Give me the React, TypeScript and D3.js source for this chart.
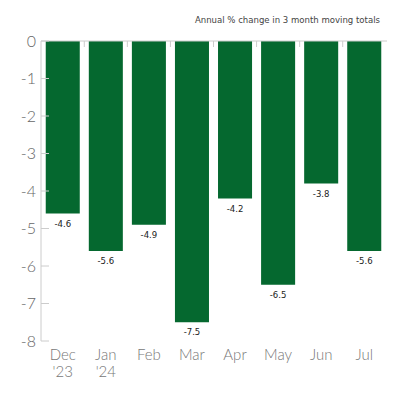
import React from "react";
import * as d3 from "d3";

const categories = ["Dec|'23", "Jan|'24", "Feb", "Mar", "Apr", "May", "Jun", "Jul"];
const values = [-4.6, -5.6, -4.9, -7.5, -4.2, -6.5, -3.8, -5.6];
const yTicks = [0, -1, -2, -3, -4, -5, -6, -7, -8];
const title = "Annual % change in 3 month moving totals";

export default function App() {
  const W = 400, H = 400;
  const left = 41, right = 386, top = 41, bottom = 341;
  const x = d3.scaleBand<string>().domain(categories).range([left, right]).paddingInner(0.21).paddingOuter(0.11);
  const y = d3.scaleLinear().domain([0, -8]).range([top, bottom]);
  const green = "#05682f";
  const step = x.step();
  const boundaries = categories.slice(1).map((c) => (x(c) as number) - (step - x.bandwidth()) / 2);
  return (
    <svg width={W} height={H} style={{ position: "absolute", left: 0, top: 0, background: "#fff" }}>
      <text x={380} y={23} textAnchor="end" fontFamily="'DejaVu Sans Condensed', 'DejaVu Sans'" fontSize={9.5} fill="#444" style={{ fontStretch: "condensed" }}>
        {title}
      </text>
      {categories.map((c, i) => (
        <rect key={c} x={x(c)} y={y(0)} width={x.bandwidth()} height={y(values[i]) - y(0)} fill={green} />
      ))}
      <line x1={left} x2={387} y1={top} y2={top} stroke="#ccc" strokeWidth={1} />
      {boundaries.map((b, i) => (
        <line key={i} x1={b} x2={b} y1={top} y2={top + 6} stroke="#ccc" strokeWidth={1} />
      ))}
      <line x1={left} x2={left} y1={top} y2={bottom} stroke="#ccc" strokeWidth={1} />
      {yTicks.map((t) => (
        <g key={t}>
          <line x1={left} x2={left + 8} y1={y(t)} y2={y(t)} stroke="#ccc" strokeWidth={1} />
          <text x={36} y={y(t) + 5.5} textAnchor="end" fontFamily="Lato, 'Open Sans', sans-serif" fontWeight={300} fontSize={16} fill="#666">
            {t}
          </text>
        </g>
      ))}
      {categories.map((c, i) => (
        <text key={c} x={(x(c) as number) + x.bandwidth() / 2} y={y(values[i]) + 13} textAnchor="middle" fontFamily="'DejaVu Sans Condensed', 'DejaVu Sans'" fontSize={9.5} fill="#222" style={{ fontStretch: "condensed" }}>
          {values[i].toFixed(1)}
        </text>
      ))}
      {categories.map((c) => {
        const parts = c.split("|");
        const cx = (x(c) as number) + x.bandwidth() / 2;
        return (
          <text key={c} x={cx} y={360} textAnchor="middle" fontFamily="Lato, 'Open Sans', sans-serif" fontWeight={300} fontSize={15} fill="#777">
            {parts.map((p, j) => (
              <tspan key={j} x={cx} dy={j === 0 ? 0 : 17}>{p}</tspan>
            ))}
          </text>
        );
      })}
    </svg>
  );
}
